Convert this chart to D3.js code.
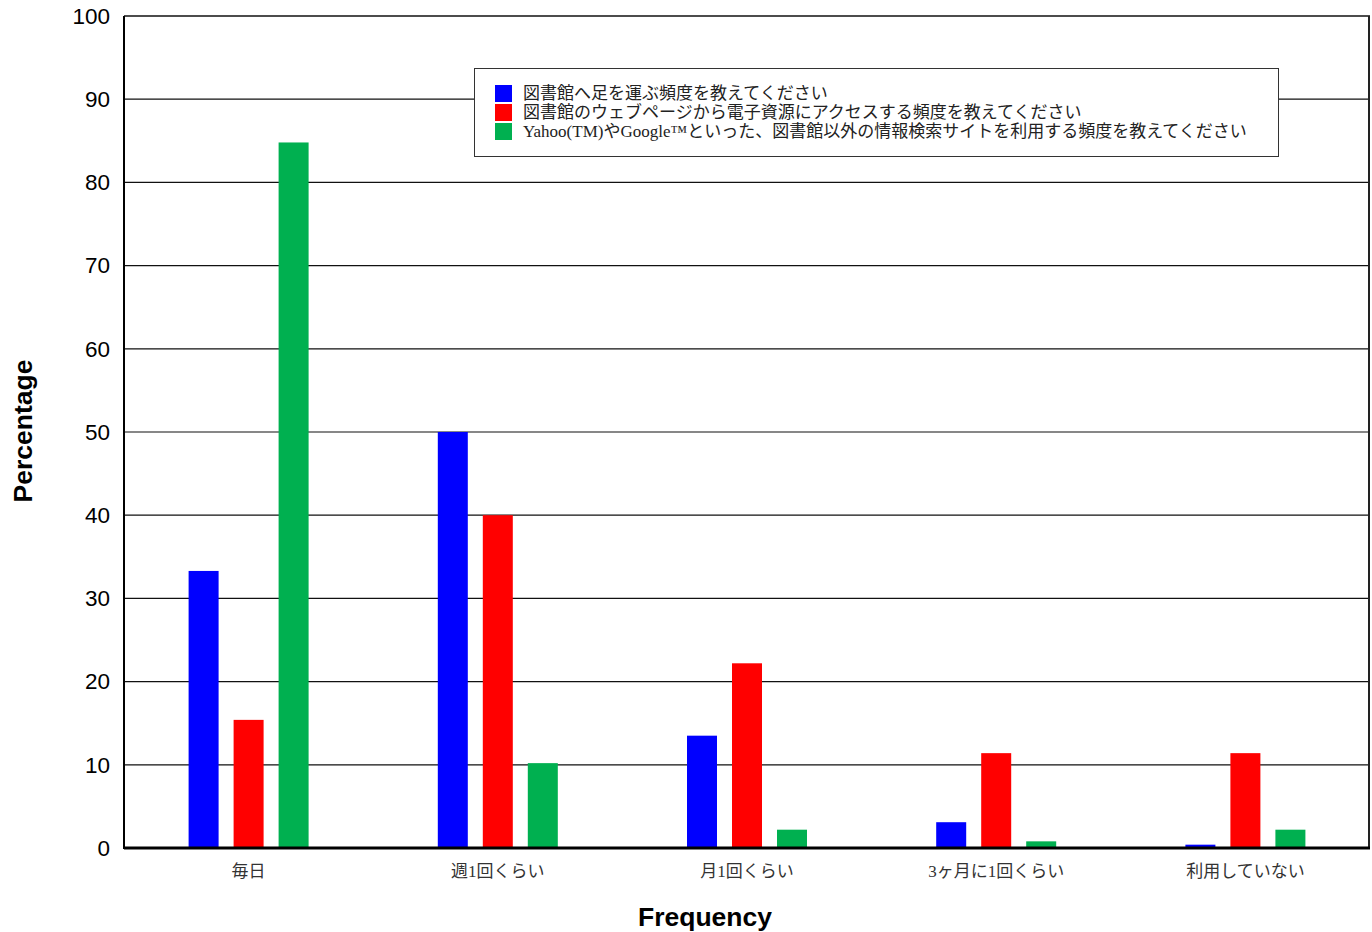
<!DOCTYPE html>
<html><head><meta charset="utf-8">
<script src="https://cdn.jsdelivr.net/npm/d3@7"></script>
<style>body{margin:0;background:#fff}</style>
</head><body>
<svg id="c" width="1372" height="932"></svg>
<script>
const categories = ["毎日", "週1回くらい", "月1回くらい", "3ヶ月に1回くらい", "利用していない"];
const seriesNames = [
  "図書館へ足を運ぶ頻度を教えてください",
  "図書館のウェブページから電子資源にアクセスする頻度を教えてください",
  "Yahoo(TM)やGoogle™といった、図書館以外の情報検索サイトを利用する頻度を教えてください"
];
const seriesColors = ["#0000ff", "#ff0000", "#00b050"];
const visitLibrary = [33.3, 50.0, 13.5, 3.1, 0.4];
const libraryWeb = [15.4, 40.0, 22.2, 11.4, 11.4];
const otherSearch = [84.8, 10.2, 2.2, 0.8, 2.2];
const yTicks = [0, 10, 20, 30, 40, 50, 60, 70, 80, 90, 100];
const seriesValues = [visitLibrary, libraryWeb, otherSearch];

const svg = d3.select("#c");
const L = 124, R = 1370, T = 16, B = 848;
const x0 = d3.scaleBand().domain(categories).range([L, R]);
const x1 = d3.scaleBand().domain(d3.range(3)).range([0, 120]).paddingInner(1/3);
const y = d3.scaleLinear().domain([0, 100]).range([B, T]);

// gridlines
svg.append("g").selectAll("line").data(yTicks.filter(d => d > 0 && d < 100)).join("line")
  .attr("x1", L).attr("x2", R).attr("y1", d => y(d)).attr("y2", d => y(d))
  .attr("stroke", "#111").attr("stroke-width", 1.2);

// bars
categories.forEach((c, i) => {
  seriesValues.forEach((vals, s) => {
    svg.append("rect")
      .attr("x", x0(c) + x0.bandwidth() / 2 - 60 + x1(s))
      .attr("width", x1.bandwidth())
      .attr("y", y(vals[i]))
      .attr("height", B - y(vals[i]))
      .attr("fill", seriesColors[s]);
  });
});

// frame
svg.append("line").attr("x1", L).attr("x2", R).attr("y1", T).attr("y2", T).attr("stroke", "#111").attr("stroke-width", 1.5);
svg.append("line").attr("x1", R - 1).attr("x2", R - 1).attr("y1", T).attr("y2", B).attr("stroke", "#222").attr("stroke-width", 2);
svg.append("line").attr("x1", L).attr("x2", L).attr("y1", T).attr("y2", B + 1).attr("stroke", "#000").attr("stroke-width", 2);
svg.append("line").attr("x1", L).attr("x2", R).attr("y1", B).attr("y2", B).attr("stroke", "#000").attr("stroke-width", 3);

// y axis labels
const yAxis = d3.axisLeft(y).tickValues(yTicks).tickSize(0).tickPadding(14);
const ya = svg.append("g").attr("transform", `translate(${L},0)`).call(yAxis);
ya.select(".domain").remove();
ya.selectAll("text").attr("font-family", "Liberation Sans, Arial, sans-serif").attr("font-size", 22.5).attr("fill", "#000");

// x axis labels
const xAxis = d3.axisBottom(x0).tickSize(0).tickPadding(17);
const xa = svg.append("g").attr("transform", `translate(0,${B})`).call(xAxis);
xa.select(".domain").remove();
xa.selectAll("text").attr("font-family", "Liberation Serif, 'Noto Sans CJK JP', serif").attr("font-size", 17).attr("fill", "#333");

// axis titles
svg.append("text").attr("x", 705).attr("y", 926).attr("text-anchor", "middle")
  .attr("font-family", "Liberation Sans, Arial, sans-serif").attr("font-weight", "bold").attr("font-size", 26.5).text("Frequency");
svg.append("text").attr("transform", "translate(32,431) rotate(-90)").attr("text-anchor", "middle")
  .attr("font-family", "Liberation Sans, Arial, sans-serif").attr("font-weight", "bold").attr("font-size", 26.5).text("Percentage");

// legend
const lg = svg.append("g");
lg.append("rect").attr("x", 474.5).attr("y", 68.5).attr("width", 804).attr("height", 88)
  .attr("fill", "#fff").attr("stroke", "#333").attr("stroke-width", 1);
seriesNames.forEach((n, i) => {
  lg.append("rect").attr("x", 495).attr("y", 85 + i * 19).attr("width", 17).attr("height", 17).attr("fill", seriesColors[i]);
  lg.append("text").attr("x", 523).attr("y", 99 + i * 19)
    .attr("font-family", "Liberation Serif, 'Noto Sans CJK JP', serif").attr("font-size", 17).attr("fill", "#222").text(n);
});
</script>
</body></html>
